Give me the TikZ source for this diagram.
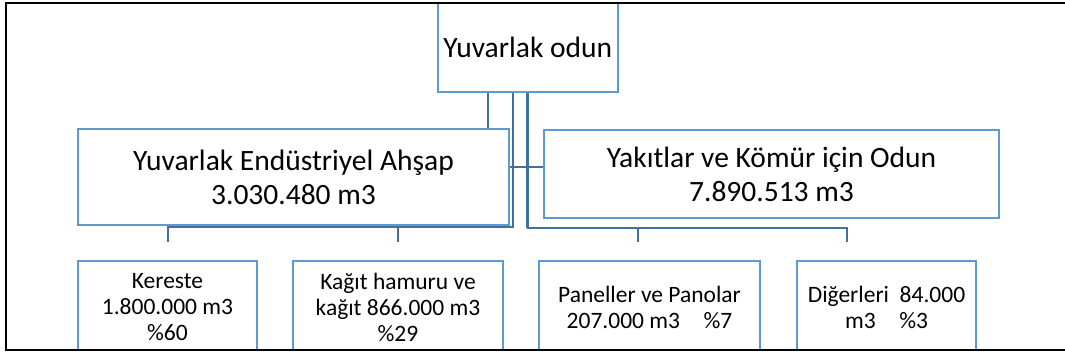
\documentclass[tikz,border=0pt]{standalone}
\usepackage{fontspec}
\setmainfont{Carlito}
\definecolor{kutumavi}{RGB}{91,155,213}
\definecolor{hatmavi}{RGB}{65,113,156}
\newcommand{\buyukyazi}{\fontsize{29.5}{34}\selectfont}
\newcommand{\kucukyazi}{\fontsize{23.5}{26}\selectfont}
\tikzset{
    kutu/.style={draw=kutumavi, line width=2pt, fill=white, align=center, inner sep=0pt},
    anakutu/.style={kutu, font=\buyukyazi},
    altkutu/.style={kutu, font=\kucukyazi, minimum height=92pt},
    hat/.style={draw=hatmavi, line width=2pt}
}

\begin{document}
\begin{tikzpicture}[x=1pt, y=-1pt]
        \useasboundingbox (0,0) rectangle (1065,358);

        \node[anakutu, minimum width=180pt, minimum height=89pt] (root) at (527.7,47.3) {Yuvarlak odun};
        \node[anakutu, minimum width=431pt, minimum height=96pt] (ahsap) at (293.5,177) {Yuvarlak Endüstriyel Ahşap\\3.030.480 m3};
        \node[anakutu, minimum width=455pt, minimum height=88pt] (yakit) at (771.5,174) {Yakıtlar ve Kömür için Odun\\7.890.513 m3};

        \begin{scope}
            \clip (0,0) rectangle (1065,350);
            \node[altkutu, minimum width=179pt] (kereste) at (167.5,307) {Kereste\\1.800.000 m3\\\%60};
            \node[altkutu, minimum width=210pt] (kagit) at (398,307) {Kağıt hamuru ve\\kağıt 866.000 m3\\\%29};
            \node[altkutu, minimum width=221pt] (panel) at (649.5,307) {Paneller ve Panolar\\207.000 m3\quad \%7};
            \node[altkutu, minimum width=179pt] (diger) at (886.5,307) {Diğerleri~~84.000\\m3\quad \%3};
        \end{scope}

        \coordinate (solkol) at ([xshift=-39.5pt]root.south);
        \coordinate (ortakol) at ([xshift=-14.5pt]root.south);
        \coordinate (solbara) at (0,227);
        \coordinate (sagbara) at (0,228);
        \coordinate (panelust) at ([xshift=-11.5pt,yshift=18pt]panel.north);
        \coordinate (digerust) at ([xshift=-39.5pt,yshift=18pt]diger.north);

        \draw[hat] (solkol) -- (solkol |- ahsap.north);
        \draw[hat] ([yshift=10pt]ahsap.east) -- ([yshift=10pt]ahsap.east -| yakit.west);
        \draw[hat] (ortakol) |- (solbara -| kereste.north) -- ([yshift=18pt]kereste.north);
        \draw[hat] (solbara -| kagit.north) -- ([yshift=18pt]kagit.north);
        \draw[hat] (root.south) |- (sagbara -| digerust) -- (digerust);
        \draw[hat, line width=2.8pt] (root.south) -- (root.south |- sagbara);
        \draw[hat] (sagbara -| panelust) -- (panelust);

        \draw[black, line width=2.5pt] (1065,3) -- (6,3) -- (6,350) -- (1065,350);
    \end{tikzpicture}
\end{document}
